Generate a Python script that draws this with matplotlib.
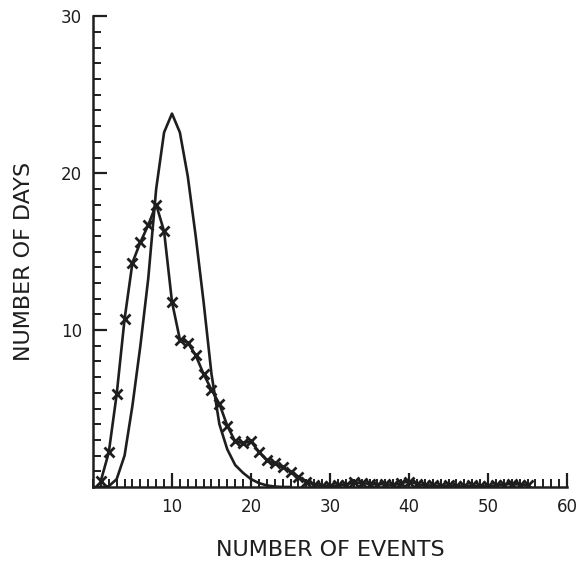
import matplotlib
matplotlib.use("Agg")
import matplotlib.pyplot as plt
from matplotlib.ticker import MultipleLocator, FixedLocator

# Smooth (unmarked) curve, values at integer event counts
curve_x = list(range(0, 26))
curve_y = [0, 0, 0.05, 0.5, 2.0, 5.2, 9.0, 13.3, 19.0, 22.6, 23.8, 22.6, 19.8, 16.0,
           11.8, 7.2, 4.0, 2.4, 1.4, 0.9, 0.5, 0.25, 0.1, 0.03, 0, 0]

# Marked (x) series
obs_x = list(range(1, 56))
obs_y = [0.4, 2.2, 5.9, 10.7, 14.3, 15.6, 16.7, 18.0, 16.3, 11.8,
         9.4, 9.2, 8.4, 7.2, 6.2, 5.3, 3.9, 2.9, 2.8, 2.9,
         2.25, 1.7, 1.5, 1.3, 0.97, 0.65, 0.34, 0.15, 0.05, 0.05,
         0.1, 0.15, 0.3, 0.25, 0.2, 0.15, 0.2, 0.1, 0.25, 0.35,
         0.2, 0.1, 0.1, 0.05, 0.1, 0.05, 0.05, 0.1, 0.05, 0.05,
         0.1, 0.15, 0.2, 0.15, 0.1]

x_ticks = [10, 20, 30, 40, 50, 60]
y_ticks = [10, 20, 30]
x_label = "NUMBER OF EVENTS"
y_label = "NUMBER OF DAYS"

ink = "#1e1e1e"
fig = plt.figure(figsize=(5.81, 5.63), dpi=100)
ax = fig.add_axes([0.160, 0.135, 0.816, 0.836])

ax.plot(curve_x, curve_y, color=ink, lw=1.9, solid_joinstyle="round")
ax.plot(obs_x, obs_y, color=ink, lw=1.9, marker="x", markersize=7,
        markeredgewidth=2.0, solid_joinstyle="round")

ax.set_xlim(0, 60)
ax.set_ylim(0, 30)
for s in ["top", "right"]:
    ax.spines[s].set_visible(False)
for s in ["left", "bottom"]:
    ax.spines[s].set_linewidth(1.8)
    ax.spines[s].set_color(ink)

ax.xaxis.set_major_locator(FixedLocator(x_ticks))
ax.yaxis.set_major_locator(FixedLocator(y_ticks))
ax.xaxis.set_minor_locator(MultipleLocator(1))
ax.yaxis.set_minor_locator(MultipleLocator(1))
ax.tick_params(which="major", direction="in", length=10, width=1.6, color=ink,
               labelsize=12, labelcolor=ink, pad=8)
ax.tick_params(which="minor", direction="in", length=6, width=1.4, color=ink)
ax.set_xticklabels([str(v) for v in x_ticks])
ax.set_yticklabels([str(v) for v in y_ticks])

ax.set_xlabel(x_label, fontsize=16, color=ink)
ax.set_ylabel(y_label, fontsize=16, color=ink)
ax.xaxis.set_label_coords(0.5, -0.112)
ax.yaxis.set_label_coords(-0.124, 0.48)

fig.savefig("out.png", dpi=100, facecolor="white")
